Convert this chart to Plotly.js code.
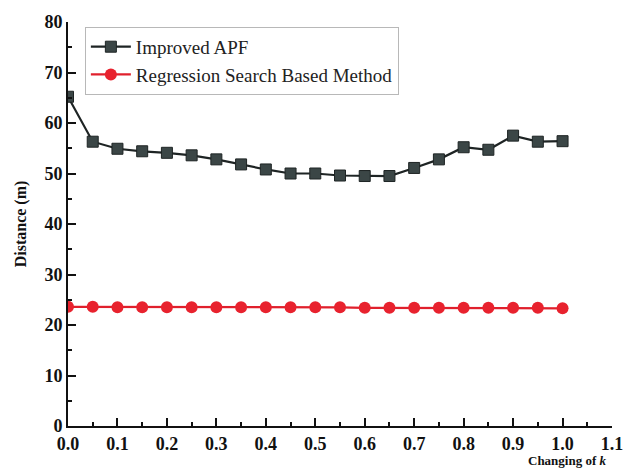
<!DOCTYPE html>
<html>
<head>
<meta charset="utf-8">
<script src="https://cdn.plot.ly/plotly-3.0.1.min.js"></script>
<style>html,body{margin:0;padding:0;background:#fff;}#chart{width:630px;height:471px;}</style>
</head>
<body>
<div id="chart"></div>
<script>
const kValues = [0, 0.05, 0.1, 0.15, 0.2, 0.25, 0.3, 0.35, 0.4, 0.45, 0.5, 0.55, 0.6, 0.65, 0.7, 0.75, 0.8, 0.85, 0.9, 0.95, 1.0];
const improvedAPF = [65.2, 56.3, 54.9, 54.4, 54.1, 53.6, 52.8, 51.8, 50.8, 50.0, 50.0, 49.6, 49.5, 49.5, 51.1, 52.8, 55.2, 54.7, 57.5, 56.3, 56.4];
const regression = [23.6, 23.6, 23.5, 23.5, 23.5, 23.5, 23.5, 23.5, 23.5, 23.5, 23.5, 23.5, 23.4, 23.4, 23.4, 23.4, 23.4, 23.4, 23.4, 23.4, 23.3];
const seriesNames = ["Improved APF", "Regression Search Based Method"];
const xTickVals = [0, 0.1, 0.2, 0.3, 0.4, 0.5, 0.6, 0.7, 0.8, 0.9, 1.0, 1.1];
const xTickText = ["0.0", "0.1", "0.2", "0.3", "0.4", "0.5", "0.6", "0.7", "0.8", "0.9", "1.0", "1.1"];
const yTickVals = [0, 10, 20, 30, 40, 50, 60, 70, 80];

const serif = "Liberation Serif, Times New Roman, serif";

const traces = [
  {
    x: kValues, y: improvedAPF, name: seriesNames[0], type: "scatter", mode: "lines+markers",
    line: {color: "#1e2424", width: 2.2},
    marker: {symbol: "square", size: 11, color: "#3b4646", line: {color: "#1e2424", width: 1}}
  },
  {
    x: kValues, y: regression, name: seriesNames[1], type: "scatter", mode: "lines+markers",
    line: {color: "#e0202c", width: 2.2},
    marker: {symbol: "circle", size: 12, color: "#e8222e", line: {color: "#d01a26", width: 0}}
  }
];

const layout = {
  width: 630, height: 471,
  margin: {l: 68, r: 18, t: 22, b: 45},
  paper_bgcolor: "#ffffff", plot_bgcolor: "#ffffff",
  showlegend: true,
  legend: {
    x: 0.031, y: 0.988, xanchor: "left", yanchor: "top",
    bgcolor: "rgba(255,255,255,0)", bordercolor: "#b8b8b8", borderwidth: 1,
    font: {family: serif, size: 19, color: "#222"},
    tracegroupgap: 0, itemwidth: 40
  },
  xaxis: {
    range: [0, 1.1], tickvals: xTickVals, ticktext: xTickText,
    showgrid: false, zeroline: false, showline: true, linecolor: "#111", linewidth: 2,
    ticks: "inside", ticklen: 8, tickwidth: 2, tickcolor: "#111",
    minor: {dtick: 0.05, ticks: "inside", ticklen: 4, tickwidth: 2, tickcolor: "#111"},
    tickfont: {family: serif, size: 18, color: "#111", weight: "bold"},
    mirror: false
  },
  yaxis: {
    range: [0, 80], tickvals: yTickVals,
    showgrid: false, zeroline: false, showline: true, linecolor: "#111", linewidth: 2,
    ticks: "inside", ticklen: 8, tickwidth: 2, tickcolor: "#111",
    minor: {dtick: 5, ticks: "inside", ticklen: 4, tickwidth: 2, tickcolor: "#111"},
    tickfont: {family: serif, size: 18, color: "#111", weight: "bold"},
    title: {text: "Distance (m)", font: {family: serif, size: 16, color: "#111", weight: "bold"}, standoff: 14}
  },
  annotations: [
    {
      text: "Changing of <i>k</i>", xref: "paper", yref: "paper", x: 0.995, y: -0.108,
      xanchor: "right", yanchor: "bottom", showarrow: false,
      font: {family: serif, size: 13, color: "#111", weight: "bold"}
    }
  ]
};

Plotly.newPlot("chart", traces, layout, {displayModeBar: false, staticPlot: true});
</script>
</body>
</html>
